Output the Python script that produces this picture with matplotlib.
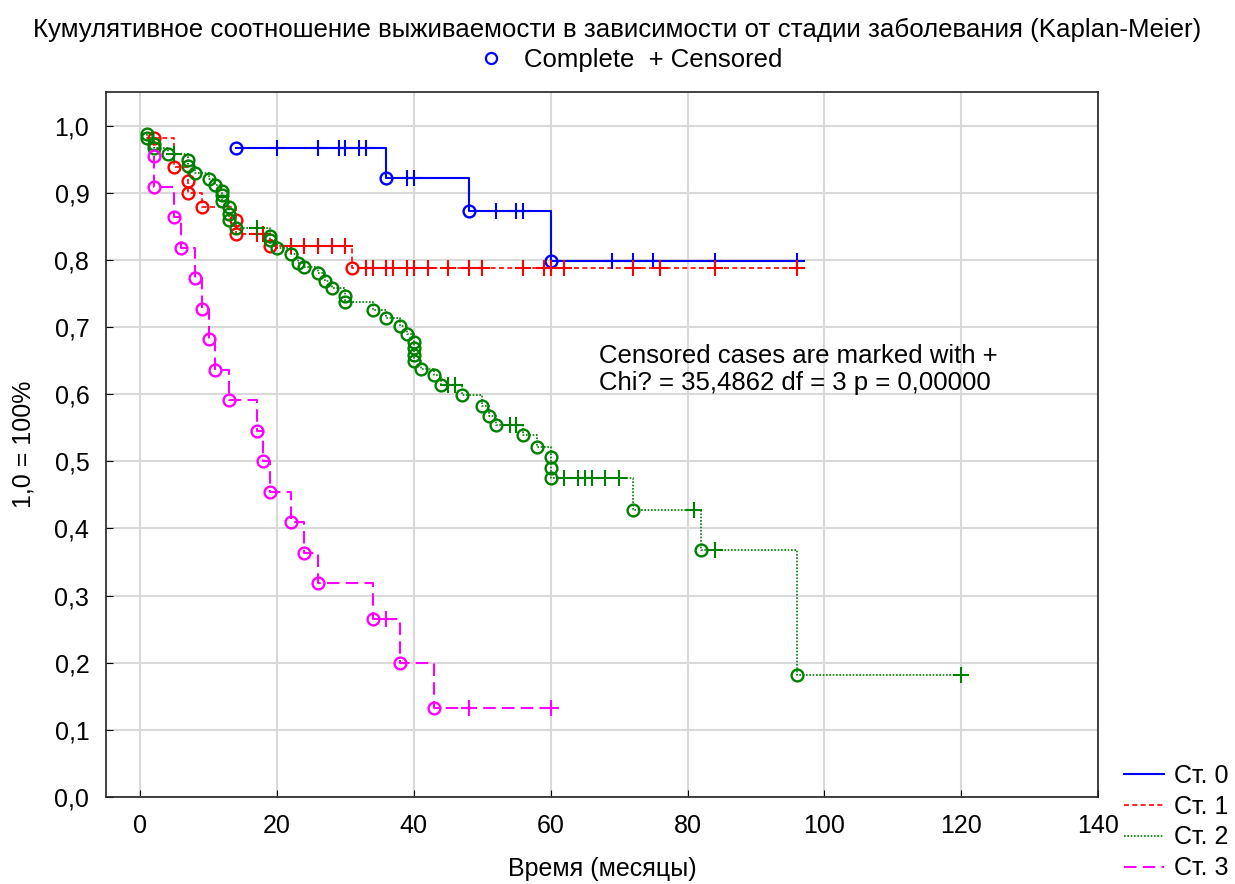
import matplotlib
matplotlib.use('Agg')
import matplotlib.pyplot as plt
from matplotlib.lines import Line2D
import numpy as np

plt.rcParams['font.family'] = ['Liberation Sans', 'DejaVu Sans']

# Kaplan-Meier data: event times (circles), survival after event, censored times (+)
blue_t = [14, 36, 48, 60]
blue_s = [0.966, 0.922, 0.873, 0.799]
blue_c = [20, 26, 29, 30, 32, 33, 39, 40, 52, 55, 56, 69, 72, 75, 84, 96]

red_t = [2, 5, 7, 7, 9, 14, 14, 19, 31]
red_s = [0.982, 0.938, 0.918, 0.900, 0.878, 0.859, 0.839, 0.821, 0.788]
red_c = [17, 18, 22, 24, 26, 28, 30, 33, 34, 36, 37, 39, 40, 42, 45, 48, 50,
         56, 59, 60, 62, 72, 76, 84, 96]

green_t = [1, 1, 2, 2, 4, 7, 7, 8, 10, 11, 12, 12, 12, 13, 13, 13, 14, 19, 19, 20,
           22, 23, 24, 26, 27, 28, 30, 30, 34, 36, 38, 39, 40, 40, 40, 40, 41, 43,
           44, 47, 50, 51, 52, 56, 58, 60, 60, 60, 72, 82, 96]
green_s = [0.988, 0.981, 0.973, 0.966, 0.958, 0.948, 0.940, 0.930, 0.921, 0.912,
           0.903, 0.896, 0.888, 0.878, 0.869, 0.859, 0.847, 0.836, 0.829, 0.818,
           0.809, 0.796, 0.789, 0.780, 0.769, 0.758, 0.746, 0.737, 0.725, 0.713,
           0.701, 0.690, 0.677, 0.668, 0.659, 0.650, 0.638, 0.628, 0.613, 0.598,
           0.583, 0.568, 0.554, 0.539, 0.521, 0.506, 0.490, 0.475, 0.427, 0.368,
           0.182]
green_c = [5, 17, 45, 46, 54, 55, 62, 64, 65, 66, 68, 70, 81, 84, 120]

mag_t = [2, 2, 5, 6, 8, 9, 10, 11, 13, 17, 18, 19, 22, 24, 26, 34, 38, 43]
mag_s = [0.955, 0.909, 0.864, 0.818, 0.773, 0.727, 0.682, 0.636, 0.591, 0.545,
         0.500, 0.455, 0.409, 0.364, 0.318, 0.265, 0.199, 0.133]
mag_c = [36, 48, 60]

groups = [
    ('Ст. 0', blue_t, blue_s, blue_c, '#0000ff', '-', 1.5),
    ('Ст. 1', red_t, red_s, red_c, '#ff0000', (0, (3, 2)), 1.2),
    ('Ст. 2', green_t, green_s, green_c, '#008000', (0, (1, 1)), 1.2),
    ('Ст. 3', mag_t, mag_s, mag_c, '#ff00ff', (0, (6, 3)), 1.5),
]

fig = plt.figure(figsize=(12.35, 8.84), dpi=100)
ax = fig.add_axes([106 / 1235, 1 - 797 / 884, 992 / 1235, 705 / 884])

handles = []
for name, t, s, c, col, ls, lw in groups:
    t = np.array(t, dtype=float)
    s = np.array(s)
    c = np.array(c, dtype=float)
    end = max(t.max(), c.max())
    xs = np.append(t, end)
    ys = np.append(s, s[-1])
    ax.step(xs, ys, where='post', color=col, linestyle=ls, linewidth=lw, zorder=3)
    # survival value at each censored time
    idx = np.searchsorted(t, c, side='right') - 1
    cs = s[np.clip(idx, 0, None)]
    ax.plot(t, s, 'o', mfc='none', mec=col, ms=8.5, mew=1.7, zorder=4)
    ax.plot(c, cs, '+', color=col, ms=11, mew=1.5, zorder=4)
    handles.append(Line2D([], [], color=col, linestyle=ls, linewidth=lw))

ax.set_xlim(-5, 140)
ax.set_ylim(0, 1.05)
ax.set_xticks(np.arange(0, 141, 20))
yt = np.arange(0, 1.01, 0.1)
ax.set_yticks(yt)
ax.set_yticklabels([('%.1f' % v).replace('.', ',') for v in yt])
ax.grid(True, color='#d9d9d9', linewidth=1.5, zorder=0)
ax.set_axisbelow(True)
ax.tick_params(direction='in', length=5, labelsize=18, color='black')
ax.tick_params(axis='x', pad=12)
ax.tick_params(axis='y', pad=12)
for sp in ax.spines.values():
    sp.set_linewidth(1.2)
    sp.set_color('#222222')

ax.set_xlabel('Время (месяцы)', fontsize=18, labelpad=14)
ax.set_ylabel('1,0 = 100%', fontsize=18, labelpad=14)

ax.text(67, 0.637, 'Censored cases are marked with +\nChi? = 35,4862 df = 3 p = 0,00000',
        fontsize=18.5, va='center', ha='left', linespacing=1.15)

fig.text(0.5, 1 - 30 / 884, 'Кумулятивное соотношение выживаемости в зависимости от стадии заболевания (Kaplan-Meier)',
         fontsize=18.6, ha='center', va='center')
fig.legend(handles=[Line2D([], [], marker='o', color='#0000ff', ls='none', mfc='none', ms=8, mew=1.6)],
           labels=['Complete  + Censored'], loc='center', bbox_to_anchor=(0.505, 1 - 60 / 884),
           frameon=False, fontsize=18.5, handletextpad=0.3)

fig.legend(handles=handles, labels=[g[0] for g in groups], loc='upper left',
           bbox_to_anchor=(1124 / 1235, 1 - 764 / 884), frameon=False, fontsize=18,
           handlelength=1.6, handletextpad=0.4, labelspacing=0.27, borderpad=0,
           borderaxespad=0)

fig.savefig('out.png', dpi=100)
